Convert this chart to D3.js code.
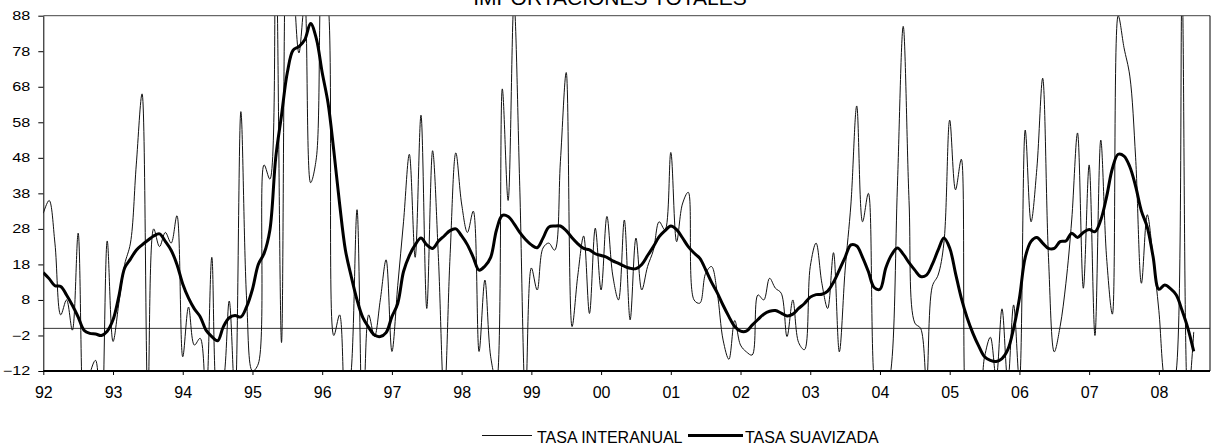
<!DOCTYPE html>
<html><head><meta charset="utf-8">
<script src="https://cdn.jsdelivr.net/npm/d3@7"></script>
<style>
html,body{margin:0;padding:0;background:#fff;}
svg{display:block;font-family:Arial,"Liberation Sans",sans-serif;}
</style></head>
<body>
<svg id="chart" width="1213" height="445"></svg>
<script>
const title = "IMPORTACIONES TOTALES";
const yearLabels = ["92","93","94","95","96","97","98","99","00","01","02","03","04","05","06","07","08"];
const yTicks = [-12,-2,8,18,28,38,48,58,68,78,88];
const seriesNames = ["TASA INTERANUAL","TASA SUAVIZADA"];

// monthly values, Jan 1992 onward
const interanual = [
 32.4,36,24,3.8,8,-0.5,26.8,-28,-13,-9,-30,24.6,
 -3.7,7,18,24,46,66,-20,28,23,27,24,31.7,
 -8,6,-4.7,-2.8,-20,20,-20,-15,7.7,-20,61,8,
 -12,-10,46,42,110,-4,120,100,77.5,92,41,48,
 100,92,-2,3.8,-25,-12,33.4,-30,3.8,-2.3,8,19.3,
 -6.5,12,30,49,20,60,5.6,50,20,-20,20,49.4,
 35,27,33,-6.5,13.6,-8,-15,67.4,36,92,40,-20,
 17,10.8,22.6,24,22,47,72,0.5,15,26,4.2,28.2,
 10.8,31.5,15,8,30.5,2.4,25.4,10.8,17.4,22,30,27.7,
 49.5,24.4,35,38.3,8,7.1,15.5,17.4,9.9,-3.3,-8.7,2.2,
 -4.7,-6.6,-7.5,9.4,8,14.1,11.3,9.9,-2.3,8,-4,-6,
 17.4,24,12.7,5.6,21.3,-6.6,16.4,35,62.6,30,38,-15,
 -25,-20,-10,40,85,36,1.5,0,-15,11.8,15,24,
 58.6,39,47.6,-25,-20,-20,-8,-2.5,-14,5.5,-15,6.6,
 -15,55.8,30,45,70.4,20,-6.6,0.5,12.7,30.5,55,11.3,
 46,-2,53,20,4,88,79,71,48,12.7,32,20,
 5,-15,-20,-12,95,-20,-1
];
const suavizada = [
 15.7,14,12,11.8,9.4,6.5,3.2,-0.5,-1.4,-1.6,-2,-0.8,
 2.4,9,17,19.5,22,23.5,24.8,26,26.6,24.5,22,18,
 12.5,8.5,5.5,3.3,-0.5,-2.3,-3.5,0.5,3,3.6,3.2,6.1,
 11,18,21.1,27.7,48,60,72,78.3,79.3,81.2,85.8,81.5,
 72,63.5,50,35,22,14.6,8,3,0.3,-1.9,-2.3,-1.2,
 3.3,7,16,20.5,23.5,25.4,23.5,22.5,24.5,26,27.5,28,
 26,23.5,20,16.4,17.5,20,27.7,31.8,31.5,29.5,27,25,
 23.5,22.7,25.4,28.5,28.8,28.8,27.5,25.5,23.8,22.5,22.1,21,
 20.5,20,19,18.3,17.5,16.9,16.8,18,20.5,23,25.8,27.5,
 28.8,27.8,25.5,23,21.2,19.7,16.5,13,10,6.5,3.3,0.5,
 -0.8,-0.8,0.9,2.5,4,4.8,5,4.3,3.5,4,5.6,7,
 8.8,9.5,9.6,10.5,13,16.4,20,23.5,23.2,20,16,11.5,
 11,17,20.7,22.6,20.9,18.5,16.4,14.6,15,18,22,25.4,
 22.6,15.5,8.5,3,-1.4,-5,-8,-9,-9.3,-8.5,-6,0,
 8.5,20,24.5,25.6,24,22.5,22.5,24.4,24.6,26.8,25.6,27,
 27.8,27.2,30.5,37,45,49,48.5,45.5,40,33,28.5,20.2,
 11,12.2,11.2,9.4,5,0,-6.5
];

const svg = d3.select("#chart");
const L = 43.3, R = 1210, T = 15.7, B = 371;
const x = d3.scaleLinear().domain([0, 200.8]).range([L, R]);
const y = d3.scaleLinear().domain([-12, 88]).range([B, T]);

// title (partly cut at the top, as in the original)
svg.append("text").attr("x", 610).attr("y", 5).attr("text-anchor", "middle")
  .attr("font-size", 21).attr("fill", "#000").text(title);

svg.append("clipPath").attr("id", "clip").append("rect")
  .attr("x", L).attr("y", T).attr("width", R - L).attr("height", B - T);

// zero line
svg.append("line").attr("x1", L).attr("x2", R).attr("y1", y(0)).attr("y2", y(0))
  .attr("stroke", "#000").attr("stroke-width", 0.8);

const g = svg.append("g").attr("clip-path", "url(#clip)");
const line = d3.line().x((d, i) => x(i)).y(d => y(d)).curve(d3.curveCatmullRom.alpha(0.5));
g.append("path").datum(interanual).attr("d", line).attr("fill", "none")
  .attr("stroke", "#111").attr("stroke-width", 1);
g.append("path").datum(suavizada).attr("d", line).attr("fill", "none")
  .attr("stroke", "#000").attr("stroke-width", 3).attr("stroke-linejoin", "round");

// frame: top and right
svg.append("line").attr("x1", L).attr("x2", R).attr("y1", T).attr("y2", T).attr("stroke", "#444").attr("stroke-width", 1);
svg.append("line").attr("x1", R).attr("x2", R).attr("y1", T).attr("y2", B).attr("stroke", "#000").attr("stroke-width", 1);

// y axis
const ya = svg.append("g").attr("transform", `translate(${L},0)`)
  .call(d3.axisLeft(y).tickValues(yTicks).tickSize(5).tickSizeOuter(0).tickFormat(d3.format("d")));
ya.select(".domain").attr("stroke", "#000").attr("stroke-width", 1);
ya.selectAll(".tick line").attr("stroke", "#000");
ya.selectAll(".tick text").attr("x", null).attr("font-size", 12).attr("font-family", "Arial, 'Liberation Sans', sans-serif")
  .attr("fill", "#000").attr("transform", "translate(-13,0) scale(1.35,1)");

// x axis
const xa = svg.append("g").attr("transform", `translate(0,${B})`)
  .call(d3.axisBottom(x).tickValues(yearLabels.map((d, i) => i * 12)).tickSize(4).tickSizeOuter(0).tickPadding(12)
    .tickFormat((d, i) => yearLabels[i]));
xa.select(".domain").remove();
xa.selectAll(".tick line").attr("stroke", "#000");
xa.selectAll(".tick text").attr("font-size", 16).attr("font-family", "Arial, 'Liberation Sans', sans-serif").attr("fill", "#000");
svg.append("line").attr("x1", L).attr("x2", R).attr("y1", B).attr("y2", B)
  .attr("stroke", "#000").attr("stroke-width", 2.2);

// legend
const lg = svg.append("g").attr("font-size", 16).attr("fill", "#000");
lg.append("line").attr("x1", 482).attr("x2", 532).attr("y1", 435.5).attr("y2", 435.5).attr("stroke", "#111").attr("stroke-width", 1);
lg.append("text").attr("x", 537).attr("y", 442.5).text(seriesNames[0]);
lg.append("line").attr("x1", 688).attr("x2", 743).attr("y1", 435.5).attr("y2", 435.5).attr("stroke", "#000").attr("stroke-width", 3);
lg.append("text").attr("x", 745).attr("y", 442.5).text(seriesNames[1]);
</script>
</body></html>
